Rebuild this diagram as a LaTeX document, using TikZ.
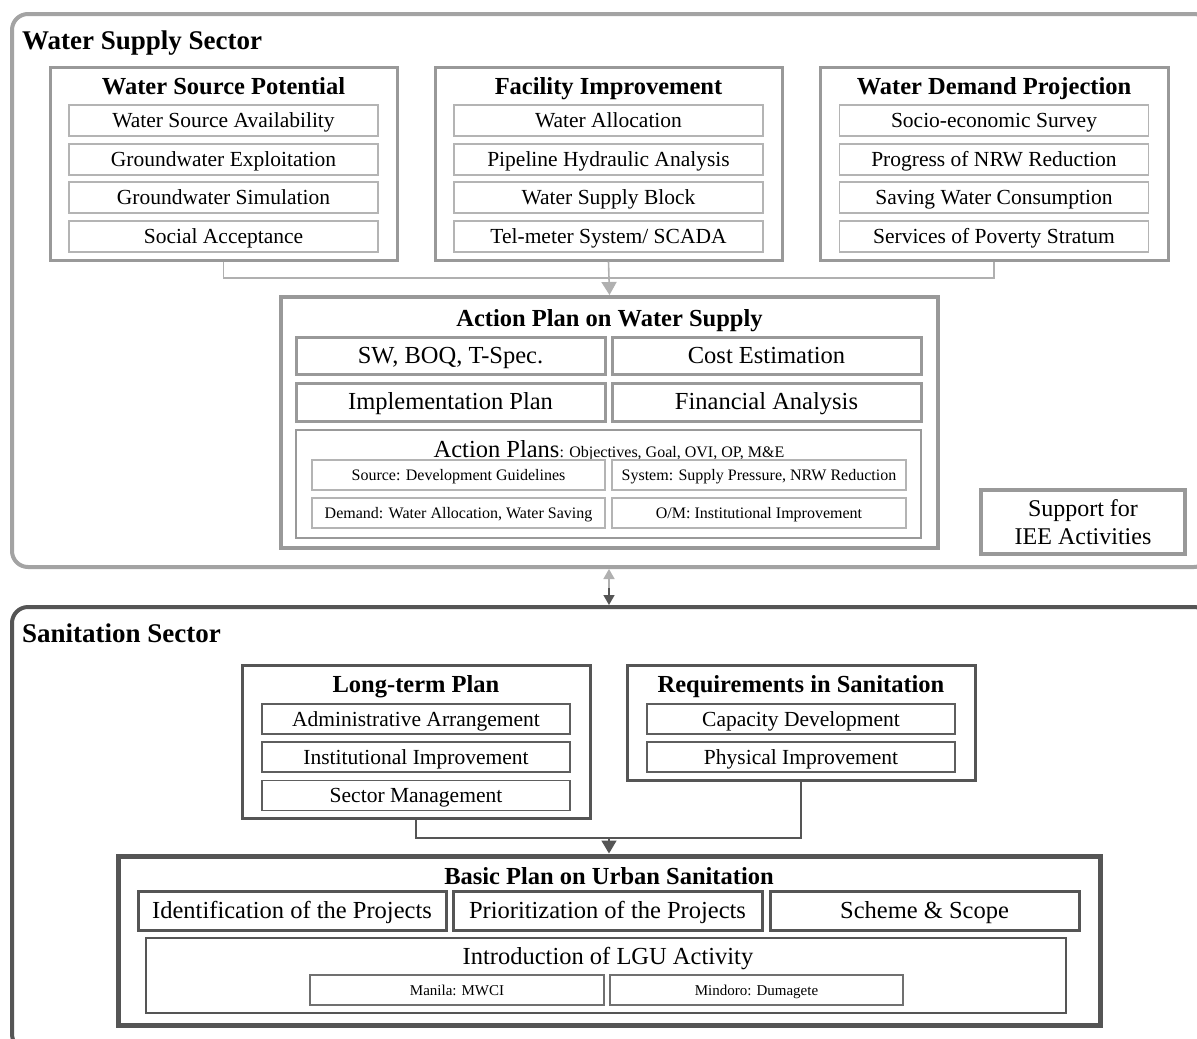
\documentclass[tikz,border=0pt]{standalone}
\usepackage{fontspec}
\setmainfont{Liberation Serif}
\usetikzlibrary{arrows.meta}

\definecolor{wsline}{HTML}{A3A3A3}
\definecolor{wsbox}{HTML}{999999}
\definecolor{wsitem}{HTML}{B4B4B4}
\definecolor{wsconn}{HTML}{B0B0B0}
\definecolor{snline}{HTML}{555555}
\definecolor{snitem}{HTML}{5E5E5E}
\definecolor{snsub}{HTML}{707070}

\tikzset{
  sector/.style={draw, rounded corners=16pt, line width=4pt, inner sep=0pt},
  sectortitle/.style={anchor=west, inner sep=0pt, text height=23.4pt, text depth=5.4pt,
    font=\fontsize{27}{30}\selectfont\bfseries},
  grouptitle/.style={inner sep=0pt, text height=21.7pt, text depth=4.9pt,
    font=\fontsize{24.5}{28}\selectfont\bfseries},
  groupbox/.style={draw, line width=3pt, inner sep=0pt},
  itembox/.style={draw, line width=1.6pt, inner sep=0pt, text height=18.6pt, text depth=4.3pt,
    minimum height=31pt, minimum width=309pt, font=\fontsize{21.5}{24}\selectfont},
  bigitem/.style={draw, line width=3pt, inner sep=0pt, text height=20.7pt, text depth=4.9pt,
    font=\fontsize{24.5}{28}\selectfont},
  smallitem/.style={draw, line width=1.4pt, inner sep=0pt, text height=13.9pt, text depth=3.2pt,
    minimum height=30pt, font=\fontsize{16}{18}\selectfont},
  plain/.style={inner sep=0pt, text height=20.7pt, text depth=4.9pt,
    font=\fontsize{24.5}{28}\selectfont},
  wsconnector/.style={draw=wsconn, line width=1.6pt},
  snconnector/.style={draw=snline, line width=1.6pt},
}

\begin{document}
\begin{tikzpicture}[x=1pt, y=-1pt]
\clip (0,0) rectangle (1197,1039);
\fill[white] (0,0) rectangle (1197,1039);

% ---------------- Water supply sector ----------------
\node[sector, draw=wsline, minimum width=1198pt, minimum height=553pt] (wss) at (611,290.5) {};
\node[sectortitle] (wsstitle) at (22,40) {Water Supply Sector};

% Water source potential
\node[groupbox, draw=wsbox, minimum width=347pt, minimum height=193pt] (wsp) at (223.5,163.5) {};
\node[grouptitle] (wspt) at (223.5,86) {Water Source Potential};
\node[itembox, draw=wsitem] (wsp1) at (223.5,120.5) {Water Source Availability};
\node[itembox, draw=wsitem] (wsp2) at (223.5,159.5) {Groundwater Exploitation};
\node[itembox, draw=wsitem] (wsp3) at (223.5,197.5) {Groundwater Simulation};
\node[itembox, draw=wsitem] (wsp4) at (223.5,236.5) {Social Acceptance};

% Facility improvement
\node[groupbox, draw=wsbox, minimum width=347pt, minimum height=193pt] (fi) at (608.5,163.5) {};
\node[grouptitle] (fit) at (608.5,86) {Facility Improvement};
\node[itembox, draw=wsitem] (fi1) at (608.5,120.5) {Water Allocation};
\node[itembox, draw=wsitem] (fi2) at (608.5,159.5) {Pipeline Hydraulic Analysis};
\node[itembox, draw=wsitem] (fi3) at (608.5,197.5) {Water Supply Block};
\node[itembox, draw=wsitem] (fi4) at (608.5,236.5) {Tel-meter System/ SCADA};

% Water demand projection
\node[groupbox, draw=wsbox, minimum width=348pt, minimum height=193pt] (wdp) at (994,163.5) {};
\node[grouptitle] (wdpt) at (994,86) {Water Demand Projection};
\node[itembox, draw=wsitem] (wdp1) at (994,120.5) {Socio-economic Survey};
\node[itembox, draw=wsitem] (wdp2) at (994,159.5) {Progress of NRW Reduction};
\node[itembox, draw=wsitem] (wdp3) at (994,197.5) {Saving Water Consumption};
\node[itembox, draw=wsitem] (wdp4) at (994,236.5) {Services of Poverty Stratum};

% Action plan on water supply
\node[groupbox, draw=wsbox, line width=4pt, minimum width=657pt, minimum height=251pt] (ap) at (609.5,422.5) {};
\node[grouptitle] (apt) at (609.5,318) {Action Plan on Water Supply};
\node[bigitem, draw=wsbox, minimum width=309pt, minimum height=37pt] (ap1) at (450.5,355.5) {SW, BOQ, T-Spec.};
\node[bigitem, draw=wsbox, minimum width=309pt, minimum height=37pt] (ap2) at (766.5,355.5) {Cost Estimation};
\node[bigitem, draw=wsbox, minimum width=309pt, minimum height=38pt] (ap3) at (450.5,402) {Implementation Plan};
\node[bigitem, draw=wsbox, minimum width=309pt, minimum height=38pt] (ap4) at (766.5,402) {Financial Analysis};

\node[groupbox, draw=wsbox, line width=2.5pt, minimum width=625pt, minimum height=108pt] (apl) at (608.5,484) {};
\node[plain] (aplt) at (609,450) {Action Plans{\fontsize{16}{18}\selectfont: Objectives, Goal, OVI, OP, M\&E}};
\node[smallitem, draw=wsitem, minimum width=293pt] (apl1) at (458.5,475) {Source: Development Guidelines};
\node[smallitem, draw=wsitem, minimum width=294pt] (apl2) at (759,475) {System: Supply Pressure, NRW Reduction};
\node[smallitem, draw=wsitem, minimum width=293pt] (apl3) at (458.5,513) {Demand: Water Allocation, Water Saving};
\node[smallitem, draw=wsitem, minimum width=294pt] (apl4) at (759,513) {O/M: Institutional Improvement};

% IEE support
\node[groupbox, draw=wsbox, line width=4pt, minimum width=204pt, minimum height=64pt, align=center,
  font=\fontsize{24}{28}\selectfont] (iee) at (1083,522) {Support for\\IEE Activities};

% Connectors into the action plan
\coordinate (wsjoin) at (608.5,278);
\draw[wsconnector] (wsp.south) |- (wdp.south |- wsjoin) -- (wdp.south);
\draw[wsconnector, -{Triangle[width=15pt,length=13pt]}, color=wsconn] (fi.south) -- (ap.north);

% ---------------- Sanitation sector ----------------
\node[sector, draw=snline, minimum width=1198pt, minimum height=443pt] (sns) at (611,828.5) {};
\node[sectortitle] (snstitle) at (22,633) {Sanitation Sector};

% Link between the two sectors
\coordinate (link) at (609,588);
\draw[draw=wsconn, line width=1.6pt, -{Triangle[width=11pt,length=10pt]}, color=wsconn] (link) -- (wss.south -| link);
\draw[draw=snline, line width=1.6pt, -{Triangle[width=11pt,length=10pt]}, color=snline] (link) -- (sns.north -| link);

% Long-term plan
\node[groupbox, draw=snline, minimum width=348pt, minimum height=153pt] (ltp) at (416,741.5) {};
\node[grouptitle] (ltpt) at (416,684) {Long-term Plan};
\node[itembox, draw=snitem, minimum width=308pt, minimum height=30pt] (ltp1) at (416,719) {Administrative Arrangement};
\node[itembox, draw=snitem, minimum width=308pt, minimum height=30pt] (ltp2) at (416,757) {Institutional Improvement};
\node[itembox, draw=snitem, minimum width=308pt, minimum height=30pt] (ltp3) at (416,795.5) {Sector Management};

% Requirements in sanitation
\node[groupbox, draw=snline, minimum width=348pt, minimum height=115pt] (ris) at (801,722.5) {};
\node[grouptitle] (rist) at (801,684) {Requirements in Sanitation};
\node[itembox, draw=snitem, minimum width=308pt, minimum height=30pt] (ris1) at (801,719) {Capacity Development};
\node[itembox, draw=snitem, minimum width=308pt, minimum height=30pt] (ris2) at (801,757) {Physical Improvement};

% Basic plan on urban sanitation
\node[groupbox, draw=snline, line width=5pt, minimum width=982pt, minimum height=169pt] (bp) at (609,940.5) {};
\node[grouptitle] (bpt) at (609,876) {Basic Plan on Urban Sanitation};
\node[bigitem, draw=snline, minimum width=308pt, minimum height=39pt] (bp1) at (292,910.5) {Identification of the Projects};
\node[bigitem, draw=snline, minimum width=309pt, minimum height=39pt] (bp2) at (607.5,910.5) {Prioritization of the Projects};
\node[bigitem, draw=snline, minimum width=309pt, minimum height=39pt] (bp3) at (924.5,910.5) {Scheme \& Scope};

\node[groupbox, draw=snline, line width=2.5pt, minimum width=920pt, minimum height=75pt] (lgu) at (606,975.5) {};
\node[plain] (lgut) at (608,957) {Introduction of LGU Activity};
\node[smallitem, draw=snsub, minimum width=294pt, text height=13.2pt, text depth=3pt,
  font=\fontsize{15}{17}\selectfont] (lgu1) at (457,990) {Manila: MWCI};
\node[smallitem, draw=snsub, minimum width=293pt, text height=13.2pt, text depth=3pt,
  font=\fontsize{15}{17}\selectfont] (lgu2) at (756.5,990) {Mindoro: Dumagete};

% Connectors into the basic plan
\coordinate (snjoin) at (609,838);
\draw[snconnector] (ltp.south) |- (ris.south |- snjoin) -- (ris.south);
\draw[snconnector, -{Triangle[width=15pt,length=13pt]}, color=snline] (snjoin) -- (bp.north);
\end{tikzpicture}
\end{document}
